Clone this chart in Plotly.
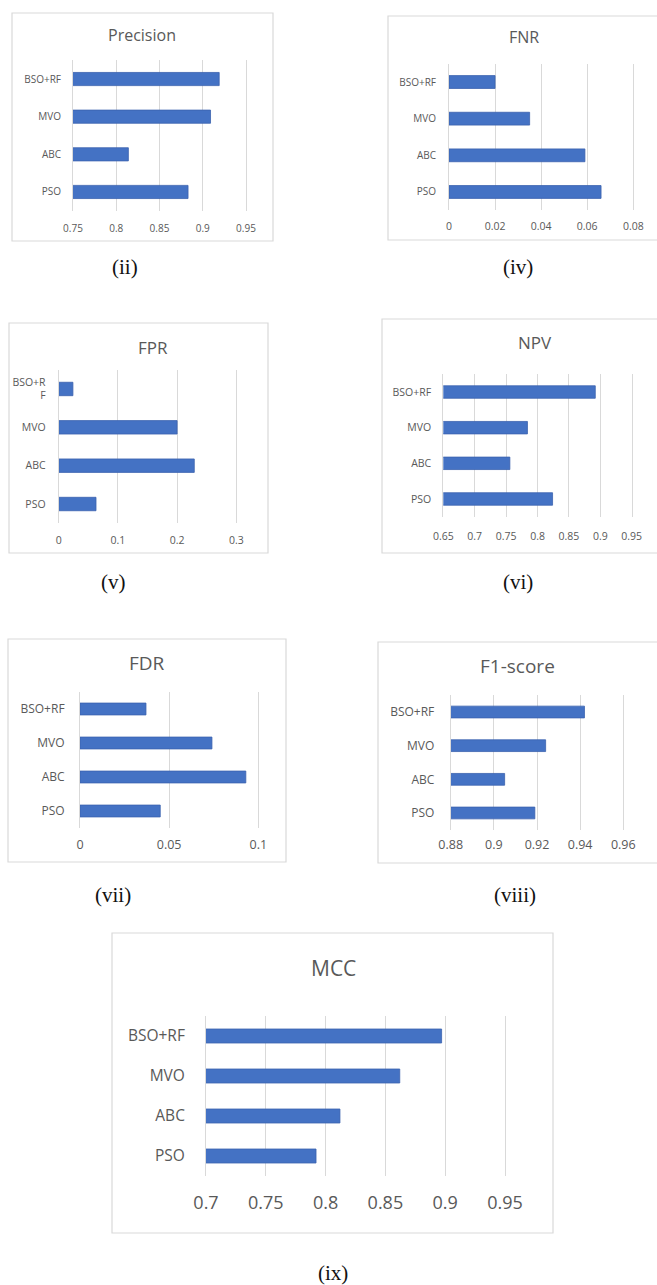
import plotly.graph_objects as go

W, H = 657, 1285

categories = ["PSO", "ABC", "MVO", "BSO+RF"]
fpr_categories = ["PSO", "ABC", "MVO", "BSO+R<br>F"]

precision = [0.883, 0.814, 0.909, 0.919]
fnr = [0.066, 0.059, 0.035, 0.020]
fpr = [0.063, 0.229, 0.200, 0.024]
npv = [0.824, 0.756, 0.784, 0.892]
fdr = [0.045, 0.093, 0.074, 0.037]
f1 = [0.919, 0.905, 0.924, 0.942]
mcc = [0.792, 0.812, 0.862, 0.897]

precision_ticks = [0.75, 0.8, 0.85, 0.9, 0.95]
precision_ticktext = ["0.75", "0.8", "0.85", "0.9", "0.95"]
fnr_ticks = [0, 0.02, 0.04, 0.06, 0.08]
fnr_ticktext = ["0", "0.02", "0.04", "0.06", "0.08"]
fpr_ticks = [0, 0.1, 0.2, 0.3]
fpr_ticktext = ["0", "0.1", "0.2", "0.3"]
npv_ticks = [0.65, 0.7, 0.75, 0.8, 0.85, 0.9, 0.95]
npv_ticktext = ["0.65", "0.7", "0.75", "0.8", "0.85", "0.9", "0.95"]
fdr_ticks = [0, 0.05, 0.1]
fdr_ticktext = ["0", "0.05", "0.1"]
f1_ticks = [0.88, 0.9, 0.92, 0.94, 0.96]
f1_ticktext = ["0.88", "0.9", "0.92", "0.94", "0.96"]
mcc_ticks = [0.7, 0.75, 0.8, 0.85, 0.9, 0.95]
mcc_ticktext = ["0.7", "0.75", "0.8", "0.85", "0.9", "0.95"]

titles = ["Precision", "FNR", "FPR", "NPV", "FDR", "F1-score", "MCC"]
captions = ["(ii)", "(iv)", "(v)", "(vi)", "(vii)", "(viii)", "(ix)"]

# layout in pixels (style only)
panels = [
    dict(vals=precision, cats=categories, tv=precision_ticks, tt=precision_ticktext,
         box=(12, 13, 273, 241), px=(73, 246), py=(60.2, 210.8),
         title=(142, 35), cap=(125, 267), tfs=16, kfs=10, cfs=10, ys=9, xs=10),
    dict(vals=fnr, cats=categories, tv=fnr_ticks, tt=fnr_ticktext,
         box=(388, 16, 668, 240), px=(449, 633.3), py=(63.7, 210.3),
         title=(524, 37), cap=(518, 267), tfs=16, kfs=10.5, cfs=10, ys=10, xs=8),
    dict(vals=fpr, cats=fpr_categories, tv=fpr_ticks, tt=fpr_ticktext,
         box=(9, 323, 268, 553), px=(58.7, 236.3), py=(369.8, 523.2),
         title=(153, 348), cap=(113, 582), tfs=17, kfs=10.5, cfs=10.5, ys=10, xs=9),
    dict(vals=npv, cats=categories, tv=npv_ticks, tt=npv_ticktext,
         box=(382, 319, 668, 553), px=(443.3, 631.7), py=(374.2, 516.8),
         title=(535, 343), cap=(518, 582), tfs=17, kfs=10.5, cfs=10.5, ys=9, xs=12),
    dict(vals=fdr, cats=categories, tv=fdr_ticks, tt=fdr_ticktext,
         box=(8, 639, 286, 862), px=(80, 258.3), py=(692, 828),
         title=(147, 663), cap=(113, 895), tfs=19, kfs=12.5, cfs=12, ys=12, xs=7),
    dict(vals=f1, cats=categories, tv=f1_ticks, tt=f1_ticktext,
         box=(378, 642, 668, 863), px=(450.7, 623.3), py=(695.2, 829.8),
         title=(517, 666), cap=(515, 895), tfs=19, kfs=12.5, cfs=12, ys=13, xs=6),
    dict(vals=mcc, cats=categories, tv=mcc_ticks, tt=mcc_ticktext,
         box=(112, 933, 553, 1233), px=(206, 505), py=(1016, 1176),
         title=(333, 968), cap=(333, 1273), tfs=21, kfs=18, cfs=15.5, ys=17, xs=14),
]

FONT = "Open Sans"
GRAY = "#595959"
GRID = "#D9D9D9"
BAR = "#4472C4"


def fx(p):
    return p / W


def fy(p):
    return 1 - p / H


fig = go.Figure()
shapes = []
annotations = []
layout_axes = {}

for i, p in enumerate(panels, start=1):
    xa = "x" if i == 1 else f"x{i}"
    ya = "y" if i == 1 else f"y{i}"
    fig.add_trace(go.Bar(
        x=p["vals"], y=p["cats"], orientation="h", xaxis=xa, yaxis=ya,
        width=0.35, marker=dict(color=BAR, line=dict(color="#3B62AE", width=0.8)),
        showlegend=False, hoverinfo="x+y",
    ))
    xkey = "xaxis" if i == 1 else f"xaxis{i}"
    ykey = "yaxis" if i == 1 else f"yaxis{i}"
    layout_axes[xkey] = dict(
        domain=[fx(p["px"][0]), fx(p["px"][1])],
        range=[p["tv"][0], p["tv"][-1]],
        anchor=ya, tickvals=p["tv"], ticktext=p["tt"],
        showgrid=True, gridcolor=GRID, gridwidth=1,
        zeroline=False, showline=False, ticks="", automargin=False,
        tickfont=dict(family=FONT, size=p["kfs"], color=GRAY),
        ticklabelstandoff=p["xs"], fixedrange=True,
    )
    layout_axes[ykey] = dict(
        domain=[fy(p["py"][1]), fy(p["py"][0])],
        anchor=xa, type="category", categoryorder="array",
        categoryarray=p["cats"], range=[-0.5, 3.5],
        showgrid=False, zeroline=False, ticks="", automargin=False,
        showline=True, mirror=True, linecolor=GRID, linewidth=1,
        tickfont=dict(family=FONT, size=p["cfs"], color=GRAY),
        ticklabelstandoff=p["ys"], fixedrange=True,
    )
    bx0, by0, bx1, by1 = p["box"]
    shapes.append(dict(type="rect", xref="paper", yref="paper",
                       x0=fx(bx0), x1=fx(bx1), y0=fy(by1), y1=fy(by0),
                       line=dict(color=GRID, width=1.2), fillcolor="rgba(0,0,0,0)",
                       layer="below"))
    annotations.append(dict(text=titles[i - 1], xref="paper", yref="paper",
                            x=fx(p["title"][0]), y=fy(p["title"][1]),
                            xanchor="center", yanchor="middle", showarrow=False,
                            font=dict(family=FONT, size=p["tfs"], color=GRAY)))
    annotations.append(dict(text=captions[i - 1], xref="paper", yref="paper",
                            x=fx(p["cap"][0]), y=fy(p["cap"][1]),
                            xanchor="center", yanchor="middle", showarrow=False,
                            font=dict(family="Liberation Serif", size=21, color="#111111")))

fig.update_layout(
    template="none",
    width=W, height=H, margin=dict(l=0, r=0, t=0, b=0, autoexpand=False),
    paper_bgcolor="white", plot_bgcolor="white",
    shapes=shapes, annotations=annotations, bargap=0.65,
    **layout_axes,
)

fig.write_html(
    "out.html",
    config={"displayModeBar": False},
    post_script="document.body.style.margin='0px';document.body.style.overflow='hidden';",
)
